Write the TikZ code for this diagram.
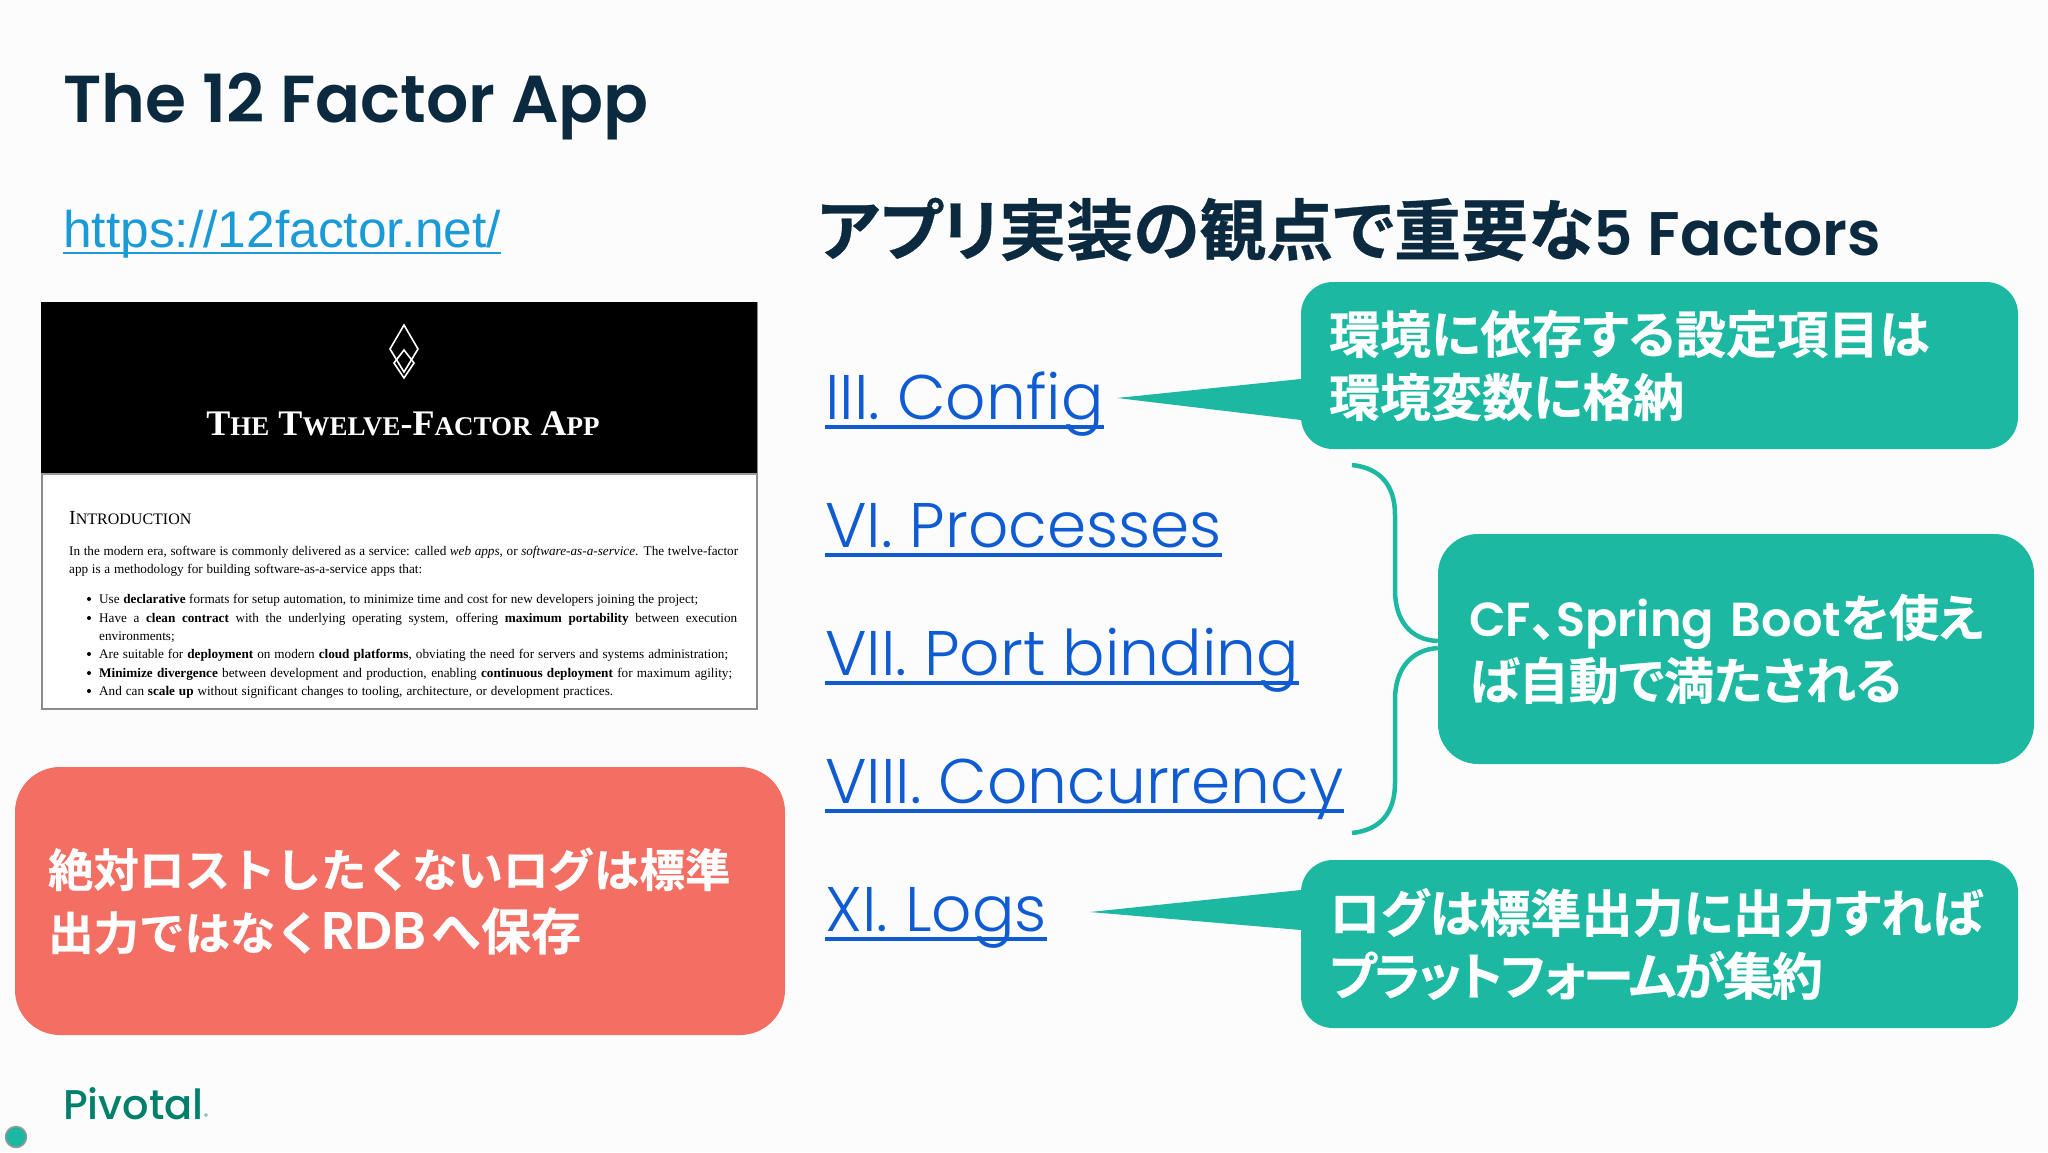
\documentclass[tikz,border=0pt]{standalone}
\usepackage{fontspec}
\setmainfont{Liberation Serif}
\newfontfamily\jpfont[RawFeature=+palt,FakeBold=0.5]{Noto Sans CJK JP Bold}
\newfontfamily\jptight[RawFeature=+palt,FakeBold=0.5,LetterSpace=-4]{Noto Sans CJK JP Bold}
\newfontfamily\jpwide[FakeBold=0.5]{Noto Sans CJK JP Bold}
\newfontfamily\popfont[BoldFont=* SemiBold]{Poppins}
\newfontfamily\linkfont[UprightFont=* Light]{Poppins}
\newfontfamily\logofont[UprightFont=* Medium]{Poppins}
\newfontfamily\urlfont{Liberation Sans}
\newcommand{\lat}[2]{{\popfont\bfseries\fontsize{#1}{63}\selectfont #2}}
\newcommand{\docline}[2]{\makebox[#1][s]{#2}}
\newcommand{\capword}[2]{{\fontsize{#1}{#1}\selectfont #2}}
\definecolor{tealbox}{HTML}{1DB8A2}
\definecolor{redbox}{HTML}{F46F63}
\definecolor{navy}{HTML}{0B2A3F}
\definecolor{linkblue}{HTML}{0F5BD2}
\definecolor{urlblue}{HTML}{1A9AD6}
\definecolor{pivotalgreen}{HTML}{00806A}
\begin{document}
\begin{tikzpicture}[x=1pt,y=-1pt]
	\tikzset{
		label/.style={anchor=base west, inner sep=0pt},
		link/.style={label, text=linkblue, font=\linkfont\fontsize{63}{63}\selectfont},
		linkrule/.style={draw=linkblue, line width=4pt},
		callout/.style={fill=tealbox, text=white, rounded corners=32pt, inner sep=0pt, align=left, font=\jpfont\fontsize{51}{63}\selectfont},
		tail/.style={fill=tealbox},
		doc/.style={label, font=\fontsize{13.2}{14}\selectfont},
		docbullet/.style={circle, fill=black, inner sep=0pt, minimum size=4pt},
	};
	\useasboundingbox (0,0) rectangle (2048,1152);
	\fill[white!99!black] (0,0) rectangle (2048,1152);

	% title and heading
	\node[label,text=navy,font=\popfont\bfseries\fontsize{66.4}{67}\selectfont] (title) at (63,122) {The 12 Factor App};
	\node[label,text=navy] (heading) at (817,255) {\jpfont\fontsize{67}{67}\selectfont アプリ実装の観点で重要な\lat{61.5}{5 Factors}};
	\node[label,text=urlblue,font=\urlfont\fontsize{51.5}{51.5}\selectfont] (url) at (63,247) {https://12factor.net/};
	\draw[draw=urlblue,line width=2.5pt] ([yshift=-6pt]url.base west) -- ([yshift=-6pt]url.base east);

	% page screenshot
	\node[draw=black!45,line width=1.5pt,fill=white,minimum width=715pt,minimum height=406pt,inner sep=0pt] (page) at (399.5,506) {};
	\fill[black] (page.north west) rectangle (757,473);
	\draw[black!40,line width=2pt] (42,474) -- (757,474);
	\draw[white,line width=1.6pt] (404,325) -- (418,349) -- (404,372) -- (390,349) -- cycle;
	\draw[white,line width=1.6pt] (404,350) -- (414,363) -- (404,378) -- (394,363) -- cycle;
	\node[anchor=base,inner sep=0pt,text=white,font=\bfseries] (pagetitle) at (403,435) {\capword{36}{T}\capword{27}{HE}\hspace{9pt}\capword{36}{T}\capword{27}{WELVE}\capword{36}{-F}\capword{27}{ACTOR}\hspace{9pt}\capword{36}{A}\capword{27}{PP}};
	\node[label] (intro) at (69,524) {\capword{20}{I}\capword{16}{NTRODUCTION}};
	\node[doc] (p1) at (69,555) {\docline{669pt}{In the modern era, software is commonly delivered as a service: called \textit{web apps}, or \textit{software-as-a-service}. The twelve-factor}};
	\node[doc] (p2) at (69,573) {\docline{353pt}{app is a methodology for building software-as-a-service apps that:}};
	\node[doc] (b1) at (99,603) {\docline{599pt}{Use \textbf{declarative} formats for setup automation, to minimize time and cost for new developers joining the project;}};
	\node[doc] (b2) at (99,622) {\docline{638pt}{Have a \textbf{clean contract} with the underlying operating system, offering \textbf{maximum portability} between execution}};
	\node[doc] (b2b) at (99,640) {environments;};
	\node[doc] (b3) at (99,658) {\docline{629pt}{Are suitable for \textbf{deployment} on modern \textbf{cloud platforms}, obviating the need for servers and systems administration;}};
	\node[doc] (b4) at (99,677) {\docline{633pt}{\textbf{Minimize divergence} between development and production, enabling \textbf{continuous deployment} for maximum agility;}};
	\node[doc] (b5) at (99,695) {\docline{514pt}{And can \textbf{scale up} without significant changes to tooling, architecture, or development practices.}};
	\node[docbullet] (d1) at (89,599) {};
	\node[docbullet] (d2) at (89,618) {};
	\node[docbullet] (d3) at (89,654) {};
	\node[docbullet] (d4) at (89,673) {};
	\node[docbullet] (d5) at (89,691) {};

	% factors
	\node[link] (config) at (825,419) {III. Config};
	\node[link] (processes) at (825,547) {VI. Processes};
	\node[link] (port) at (825,675) {VII. Port binding};
	\node[link] (concurrency) at (825,803) {VIII. Concurrency};
	\node[link] (logs) at (825,931) {XI. Logs};
	\draw[linkrule] ([yshift=-8pt]config.base west) -- ([yshift=-8pt]config.base east);
	\draw[linkrule] ([yshift=-8pt]processes.base west) -- ([yshift=-8pt]processes.base east);
	\draw[linkrule] ([yshift=-8pt]port.base west) -- ([yshift=-8pt]port.base east);
	\draw[linkrule] ([yshift=-8pt]concurrency.base west) -- ([yshift=-8pt]concurrency.base east);
	\draw[linkrule] ([yshift=-8pt]logs.base west) -- ([yshift=-8pt]logs.base east);

	% callouts
	\node[callout,minimum width=717pt,minimum height=167pt,text width=661pt] (envbox) at (1659.5,365.5) {環境に依存する設定項目は\\環境変数に格納};
	\node[callout,rounded corners=40pt,minimum width=596pt,minimum height=230pt,text width=534pt,font=\jpfont\fontsize{50}{63}\selectfont] (bootbox) at (1736,649) {\mbox{\lat{47.8}{CF}、\lat{47.8}{Spring Boot}を使え}\\ば自動で満たされる};
	\node[callout,minimum width=717pt,minimum height=168pt,text width=661pt] (logbox) at (1659.5,944) {ログは標準出力に出力すれば\\{\jptight プラットフォームが集約}};
	\node[fill=redbox,text=white,rounded corners=45pt,inner sep=0pt,align=left,minimum width=770pt,minimum height=268pt,text width=704pt,font=\jpwide\fontsize{45.5}{63}\selectfont] (lostbox) at (400,901) {絶対ロストしたくないログは標準\\出力ではなく\lat{53}{RDB}\hspace{4pt}{\fontsize{50}{63}\selectfont へ保存}};

	\coordinate (envtip) at (1117,398);
	\coordinate (logtip) at (1090,912);
	\fill[tail] (envtip) -- (envbox.west |- 0,379) -- (envbox.west |- 0,420) -- cycle;
	\fill[tail] (logtip) -- (logbox.west |- 0,890) -- (logbox.west |- 0,930) -- cycle;

	% brace
	\coordinate (bracetop) at (1352,465);
	\coordinate (bracebot) at (1352,833);
	\draw[tealbox,line width=4.5pt] (bracetop) .. controls (1380,468) and (1395,485) .. (1395,515) -- (1395,590) .. controls (1395,620) and (1410,640) .. (bootbox.west |- 0,641);
	\draw[tealbox,line width=4.5pt] (bracebot) .. controls (1380,830) and (1395,813) .. (1395,783) -- (1395,700) .. controls (1395,670) and (1410,650) .. (bootbox.west |- 0,648);

	% logo
	\node[label,text=pivotalgreen,font=\logofont\fontsize{41.5}{43}\selectfont] (pivotal) at (63,1119) {Pivotal};
	\node[label,text=pivotalgreen,font=\popfont\fontsize{8}{8}\selectfont] (registered) at (pivotal.base east) {®};
	\node[circle,fill=tealbox,draw=black!40,line width=1.5pt,minimum size=21pt,inner sep=0pt] (dot) at (16,1137) {};
\end{tikzpicture}
\end{document}
